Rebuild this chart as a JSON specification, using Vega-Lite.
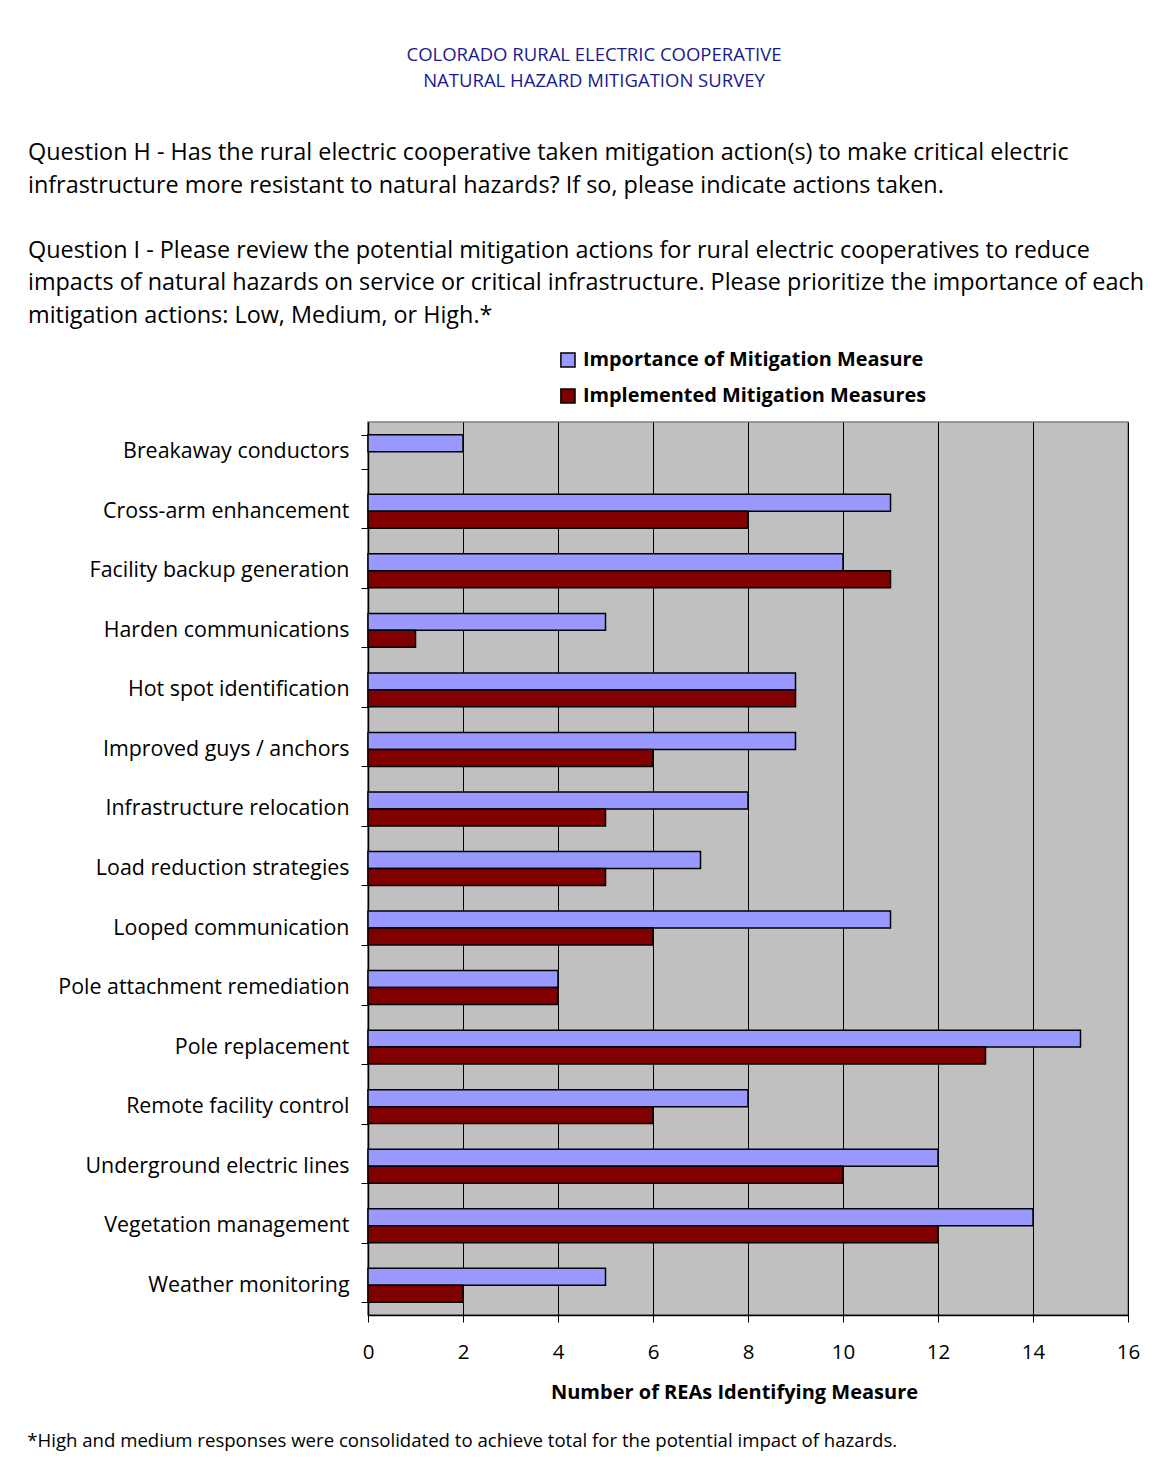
{
  "$schema": "https://vega.github.io/schema/vega-lite/v6.json",
  "background": "white",
  "padding": {"left": 27, "top": 45, "right": 10, "bottom": 10},
  "config": {
    "font": "Open Sans",
    "view": {"fill": "#C0C0C0", "stroke": "#808080", "strokeWidth": 1.5}
  },
  "title": {
    "text": ["COLORADO RURAL ELECTRIC COOPERATIVE", "NATURAL HAZARD MITIGATION SURVEY"],
    "color": "#1A1A8C",
    "fontSize": 18.5,
    "fontWeight": "normal",
    "lineHeight": 26,
    "anchor": "middle",
    "frame": "bounds",
    "dx": 8,
    "offset": 50
  },
  "vconcat": [
    {
      "title": {
        "text": "*High and medium responses were consolidated to achieve total for the potential impact of hazards.",
        "orient": "bottom",
        "anchor": "start",
        "frame": "bounds",
        "color": "black",
        "fontSize": 18.6,
        "fontWeight": "normal",
        "offset": 29
      },
      "vconcat": [
        {
          "title": {
            "text": [
              "Question H - Has the rural electric cooperative taken mitigation action(s) to make critical electric",
              "infrastructure more resistant to natural hazards? If so, please indicate actions taken."
            ],
            "subtitle": [
              "Question I - Please review the potential mitigation actions for rural electric cooperatives to reduce",
              "impacts of natural hazards on service or critical infrastructure. Please prioritize the importance of each",
              "mitigation actions: Low, Medium, or High.*"
            ],
            "anchor": "start",
            "frame": "group",
            "dx": -340,
            "color": "black",
            "fontSize": 23.4,
            "fontWeight": "normal",
            "lineHeight": 32.5,
            "subtitleColor": "black",
            "subtitleFont": "Open Sans",
            "subtitleFontSize": 23.4,
            "subtitleFontWeight": "normal",
            "subtitleLineHeight": 32.5,
            "subtitlePadding": 41.5,
            "limit": 1200,
            "offset": 83
          },
          "width": 760,
          "height": 893,
          "data": {
            "values": [
              {"measure": "Breakaway conductors", "series": "Importance of Mitigation Measure", "count": 2},
              {"measure": "Cross-arm enhancement", "series": "Importance of Mitigation Measure", "count": 11},
              {"measure": "Cross-arm enhancement", "series": "Implemented Mitigation Measures", "count": 8},
              {"measure": "Facility backup generation", "series": "Importance of Mitigation Measure", "count": 10},
              {"measure": "Facility backup generation", "series": "Implemented Mitigation Measures", "count": 11},
              {"measure": "Harden communications", "series": "Importance of Mitigation Measure", "count": 5},
              {"measure": "Harden communications", "series": "Implemented Mitigation Measures", "count": 1},
              {"measure": "Hot spot identification", "series": "Importance of Mitigation Measure", "count": 9},
              {"measure": "Hot spot identification", "series": "Implemented Mitigation Measures", "count": 9},
              {"measure": "Improved guys / anchors", "series": "Importance of Mitigation Measure", "count": 9},
              {"measure": "Improved guys / anchors", "series": "Implemented Mitigation Measures", "count": 6},
              {"measure": "Infrastructure relocation", "series": "Importance of Mitigation Measure", "count": 8},
              {"measure": "Infrastructure relocation", "series": "Implemented Mitigation Measures", "count": 5},
              {"measure": "Load reduction strategies", "series": "Importance of Mitigation Measure", "count": 7},
              {"measure": "Load reduction strategies", "series": "Implemented Mitigation Measures", "count": 5},
              {"measure": "Looped communication", "series": "Importance of Mitigation Measure", "count": 11},
              {"measure": "Looped communication", "series": "Implemented Mitigation Measures", "count": 6},
              {"measure": "Pole attachment remediation", "series": "Importance of Mitigation Measure", "count": 4},
              {"measure": "Pole attachment remediation", "series": "Implemented Mitigation Measures", "count": 4},
              {"measure": "Pole replacement", "series": "Importance of Mitigation Measure", "count": 15},
              {"measure": "Pole replacement", "series": "Implemented Mitigation Measures", "count": 13},
              {"measure": "Remote facility control", "series": "Importance of Mitigation Measure", "count": 8},
              {"measure": "Remote facility control", "series": "Implemented Mitigation Measures", "count": 6},
              {"measure": "Underground electric lines", "series": "Importance of Mitigation Measure", "count": 12},
              {"measure": "Underground electric lines", "series": "Implemented Mitigation Measures", "count": 10},
              {"measure": "Vegetation management", "series": "Importance of Mitigation Measure", "count": 14},
              {"measure": "Vegetation management", "series": "Implemented Mitigation Measures", "count": 12},
              {"measure": "Weather monitoring", "series": "Importance of Mitigation Measure", "count": 5},
              {"measure": "Weather monitoring", "series": "Implemented Mitigation Measures", "count": 2}
            ]
          },
          "mark": {"type": "bar", "stroke": "black", "strokeWidth": 1.5},
          "encoding": {
            "y": {
              "field": "measure",
              "type": "nominal",
              "sort": null,
              "scale": {"paddingInner": 0.43, "paddingOuter": 0.215},
              "axis": {
                "title": null,
                "tickBand": "extent",
                "tickColor": "black",
                "tickSize": 7,
                "domainColor": "black",
                "domainWidth": 1.5,
                "labelFontSize": 21.4,
                "labelColor": "black",
                "labelPadding": 12,
                "labelLimit": 400
              }
            },
            "yOffset": {
              "field": "series",
              "type": "nominal",
              "sort": ["Importance of Mitigation Measure", "Implemented Mitigation Measures"]
            },
            "x": {
              "field": "count",
              "type": "quantitative",
              "scale": {"domain": [0, 16], "nice": false},
              "axis": {
                "title": "Number of REAs Identifying Measure",
                "values": [0, 2, 4, 6, 8, 10, 12, 14, 16],
                "grid": true,
                "gridColor": "black",
                "gridOpacity": 1,
                "gridWidth": 1,
                "tickColor": "black",
                "tickSize": 7,
                "domainColor": "black",
                "domainWidth": 1.5,
                "labelFlush": false,
                "labelFontSize": 20.5,
                "labelColor": "black",
                "labelPadding": 20,
                "titleFontSize": 20,
                "titleFontWeight": "bold",
                "titleColor": "black",
                "titlePadding": 20,
                "titleX": 366
              }
            },
            "color": {
              "field": "series",
              "type": "nominal",
              "sort": ["Importance of Mitigation Measure", "Implemented Mitigation Measures"],
              "scale": {
                "domain": ["Importance of Mitigation Measure", "Implemented Mitigation Measures"],
                "range": ["#9999FF", "#800000"]
              },
              "legend": {
                "orient": "none",
                "legendX": 190,
                "legendY": -72,
                "title": null,
                "symbolType": "square",
                "symbolSize": 200,
                "symbolStrokeColor": "black",
                "symbolStrokeWidth": 1.5,
                "symbolOpacity": 1,
                "labelFontSize": 19.9,
                "labelFontWeight": "bold",
                "labelColor": "black",
                "labelOffset": 5,
                "labelLimit": 500,
                "rowPadding": 14
              }
            }
          }
        }
      ]
    }
  ]
}
